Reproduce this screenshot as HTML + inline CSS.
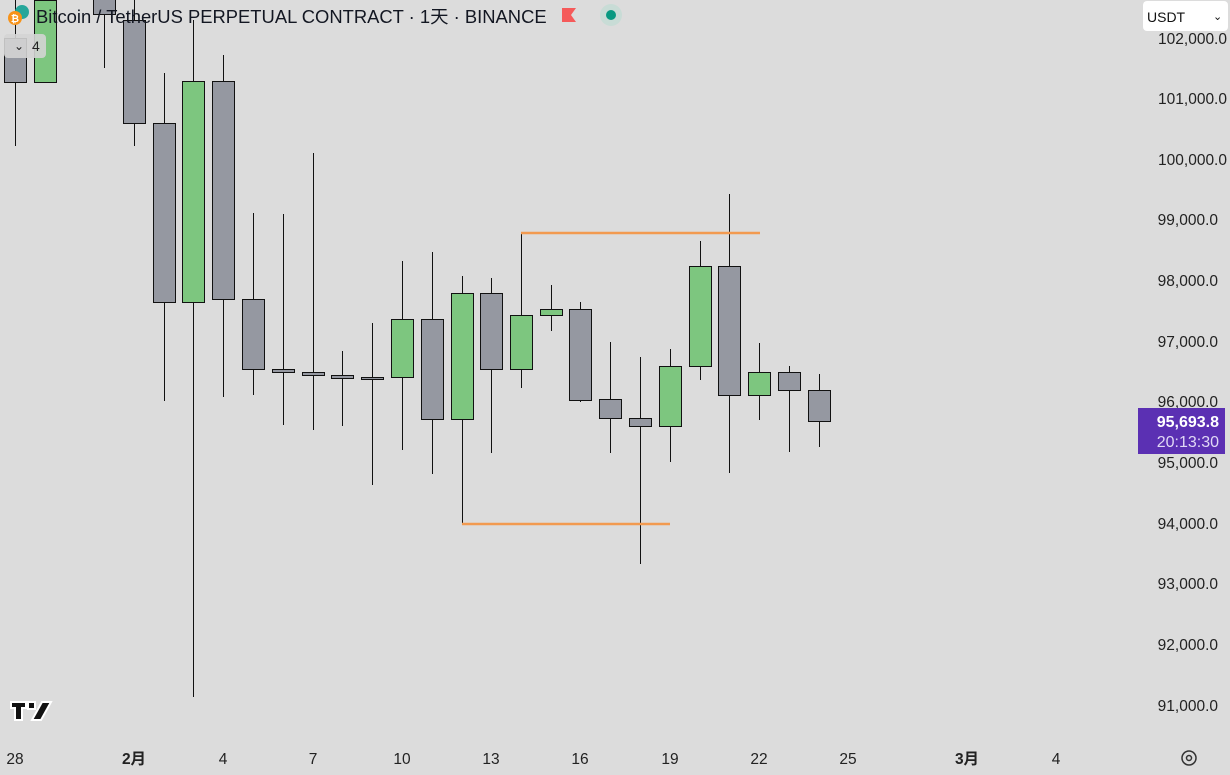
<!DOCTYPE html>
<html><head><meta charset="utf-8"><style>
html,body{margin:0;padding:0;background:#dcdcdc;width:1230px;height:775px;overflow:hidden;font-family:"Liberation Sans","Noto Sans CJK SC",sans-serif}
</style></head><body>
<svg width="1230" height="775" xmlns="http://www.w3.org/2000/svg" style="position:absolute;left:0;top:0">
<rect width="1230" height="775" fill="#dcdcdc"/>
<g id="c" stroke="#111" stroke-width="1"></g>
<line x1="521" y1="233" x2="760" y2="233" stroke="#f29a50" stroke-width="2.5"/>
<line x1="462" y1="524" x2="670" y2="524" stroke="#f29a50" stroke-width="2.5"/>
<g font-size="15.5" fill="#222" text-anchor="end">
<text x="1227" y="44">102,000.0</text>
<text x="1227" y="104">101,000.0</text>
<text x="1227" y="165">100,000.0</text>
<text x="1218" y="225">99,000.0</text>
<text x="1218" y="286">98,000.0</text>
<text x="1218" y="347">97,000.0</text>
<text x="1218" y="407">96,000.0</text>
<text x="1218" y="468">95,000.0</text>
<text x="1218" y="529">94,000.0</text>
<text x="1218" y="589">93,000.0</text>
<text x="1218" y="650">92,000.0</text>
<text x="1218" y="711">91,000.0</text>
</g>
<rect x="1138" y="408" width="87" height="46" fill="#5b30b3"/>
<text x="1219" y="427" font-size="16" font-weight="bold" fill="#fff" text-anchor="end">95,693.8</text>
<text x="1219" y="447" font-size="16" fill="#e0d8f5" text-anchor="end">20:13:30</text>
<rect x="1143" y="1" width="85" height="30" rx="4" fill="#fff"/>
<text x="1147" y="22" font-size="14" fill="#111">USDT</text>
<text x="1213" y="20" font-size="11" fill="#111">⌄</text>
<g font-size="15.5" fill="#222" text-anchor="middle">
<text x="15" y="764">28</text>
<text x="134" y="764" font-weight="bold">2月</text>
<text x="223" y="764">4</text>
<text x="313" y="764">7</text>
<text x="402" y="764">10</text>
<text x="491" y="764">13</text>
<text x="580" y="764">16</text>
<text x="670" y="764">19</text>
<text x="759" y="764">22</text>
<text x="848" y="764">25</text>
<text x="967" y="764" font-weight="bold">3月</text>
<text x="1056" y="764">4</text>
</g>
<circle cx="1189" cy="758" r="7" fill="none" stroke="#333" stroke-width="1.5"/>
<circle cx="1189" cy="758" r="2.5" fill="none" stroke="#333" stroke-width="1.5"/>
<g transform="translate(11,702)"><path d="M0 0h15v6h-4v12h-7v-12h-4z M17 0h7v7h-7z M31 0h9l-10 18h-9z" fill="#111" stroke="#fff" stroke-width="2"/></g>
<rect x="4" y="34" width="42" height="24" rx="4" fill="#d4d4d4" opacity="0.9"/>
<text x="14" y="50" font-size="12" fill="#222">⌄</text>
<text x="32" y="51" font-size="14" fill="#222">4</text>
<circle cx="22" cy="12" r="7" fill="#26a69a"/>
<circle cx="15" cy="18" r="7" fill="#f7931a"/>
<text x="15" y="22" font-size="10" font-weight="bold" fill="#fff" text-anchor="middle">₿</text>
<text x="36" y="23" font-size="18.4" fill="#131722">Bitcoin / TetherUS PERPETUAL CONTRACT · 1天 · BINANCE</text>
<path d="M562 8h14l-5 7 5 7h-14z" fill="#f55a5a"/>
<circle cx="611" cy="15" r="11" fill="#c8dcd6"/>
<circle cx="611" cy="15" r="5" fill="#089981"/>
</svg>
<script>
var d=[
[15,38,82,0,146,0],[45,0,82,0,82,1],[104,-10,14,0,68,0],[134,20,123,0,146,0],
[164,123,302,73,401,0],[193,81,302,20,697,1],[223,81,299,55,397,0],[253,299,369,213,395,0],
[283,369,372,214,425,0],[313,372,375,153,430,0],[342,375,378,351,426,0],[372,377,378,323,485,0],
[402,319,377,261,450,1],[432,319,419,252,474,0],[462,293,419,276,524,1],[491,293,369,278,453,0],
[521,315,369,232,388,1],[551,309,315,285,331,1],[580,309,400,302,402,0],[610,399,418,342,453,0],
[640,418,426,357,564,0],[670,366,426,349,462,1],[700,266,366,241,380,1],[729,266,395,194,473,0],
[759,372,395,343,420,1],[789,372,390,366,452,0],[819,390,421,374,447,0]];
var g=document.getElementById('c'),s='';
d.forEach(function(c){
s+='<line x1="'+(c[0]+.5)+'" y1="'+c[3]+'" x2="'+(c[0]+.5)+'" y2="'+c[4]+'"/>';
s+='<rect x="'+(c[0]-10.5)+'" y="'+(c[1]+.5)+'" width="22" height="'+Math.max(2,c[2]-c[1])+'" fill="'+(c[5]?'#7dc67f':'#9598a1')+'"/>';
});
g.innerHTML=s;
</script>
</body></html>
